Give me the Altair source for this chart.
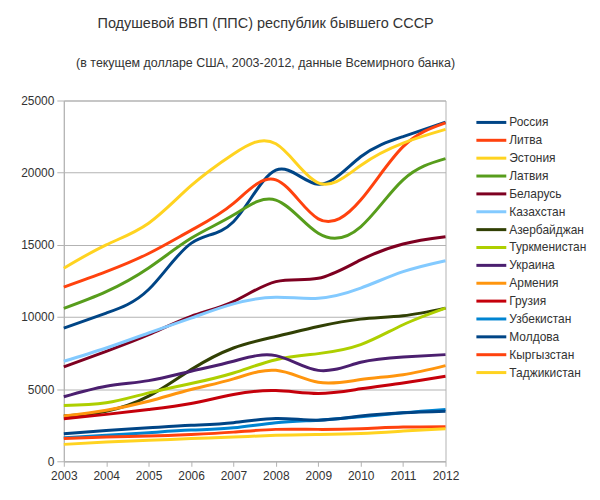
import altair as alt
import pandas as pd

years = [2003, 2004, 2005, 2006, 2007, 2008, 2009, 2010, 2011, 2012]

countries = ["Россия", "Литва", "Эстония", "Латвия", "Беларусь", "Казахстан",
             "Азербайджан", "Туркменистан", "Украина", "Армения", "Грузия",
             "Узбекистан", "Молдова", "Кыргызстан", "Таджикистан"]

colors = ["#004586", "#ff420e", "#ffd320", "#579d1c", "#7e0021", "#83caff",
          "#314004", "#aecf00", "#4b1f6f", "#ff950e", "#c5000b", "#0084d1",
          "#004586", "#ff420e", "#ffd320"]

russia       = [9230, 10270, 11900, 15100, 16600, 20170, 19200, 21100, 22500, 23500]
lithuania    = [12070, 13140, 14400, 16000, 17870, 19500, 16800, 18100, 21800, 23450]
estonia      = [13380, 15000, 16500, 19100, 21300, 22000, 19300, 20500, 22050, 23000]
latvia       = [10600, 11760, 13400, 15450, 17060, 18100, 15800, 16250, 19500, 20970]
belarus      = [6540, 7620, 8770, 10040, 11070, 12450, 12680, 13950, 15060, 15560]
kazakhstan   = [6930, 7850, 8890, 9920, 10910, 11370, 11300, 12000, 13140, 13900]
azerbaijan   = [3130, 3470, 4510, 6350, 7850, 8650, 9340, 9850, 10080, 10610]
turkmenistan = [3870, 4050, 4740, 5390, 6120, 7040, 7460, 8080, 9460, 10610]
ukraine      = [4470, 5200, 5590, 6240, 6930, 7320, 6300, 6860, 7230, 7390]
armenia      = [3130, 3540, 4160, 4970, 5710, 6300, 5480, 5660, 6000, 6630]
georgia      = [2950, 3250, 3590, 4000, 4630, 4900, 4700, 5020, 5430, 5890]
uzbekistan   = [1630, 1800, 1980, 2160, 2320, 2670, 2850, 3080, 3360, 3590]
moldova      = [1910, 2140, 2320, 2490, 2670, 2970, 2850, 3130, 3360, 3470]
kyrgyzstan   = [1570, 1680, 1750, 1860, 2020, 2210, 2210, 2260, 2370, 2400]
tajikistan   = [1170, 1330, 1450, 1570, 1680, 1800, 1860, 1930, 2090, 2260]

series = [russia, lithuania, estonia, latvia, belarus, kazakhstan, azerbaijan,
          turkmenistan, ukraine, armenia, georgia, uzbekistan, moldova,
          kyrgyzstan, tajikistan]

rows = []
for i, (c, vals) in enumerate(zip(countries, series)):
    for y, v in zip(years, vals):
        rows.append({"country": c, "year": y, "gdp": v, "idx": i})
df = pd.DataFrame(rows)
legend_df = pd.DataFrame({"country": countries})

GRAY = "#b3b3b3"
TXT = "#333333"
FONT = "Liberation Sans"

color_scale = alt.Scale(domain=countries, range=colors)

main = alt.Chart(df).mark_line(interpolate="natural", strokeWidth=3).encode(
    x=alt.X("year:Q",
            scale=alt.Scale(domain=[2003, 2012], nice=False, zero=False),
            axis=alt.Axis(values=years, format="d", title=None, grid=False,
                          tickSize=5, labelPadding=4, domainColor=GRAY,
                          tickColor=GRAY, labelFontSize=12, labelColor=TXT,
                          labelFont=FONT, labelFlush=False, labelOverlap=False)),
    y=alt.Y("gdp:Q",
            scale=alt.Scale(domain=[0, 25000], nice=False),
            axis=alt.Axis(values=[0, 5000, 10000, 15000, 20000, 25000],
                          format="d", title=None, grid=True, gridColor=GRAY,
                          tickSize=7, labelPadding=3, domainColor=GRAY,
                          tickColor=GRAY, labelFontSize=12, labelColor=TXT,
                          labelFont=FONT, labelFlush=False)),
    color=alt.Color("country:N", scale=color_scale, legend=None),
    order=alt.Order("idx:Q"),
).properties(width=383, height=362)

ly = alt.Y("country:N",
           scale=alt.Scale(type="point", domain=countries, range=[22, 273], padding=0),
           axis=None)

leg_rule = alt.Chart(legend_df).mark_rule(strokeWidth=3).encode(
    x=alt.value(16), x2=alt.value(46), y=ly,
    color=alt.Color("country:N", scale=color_scale, legend=None),
)
leg_text = alt.Chart(legend_df).mark_text(
    align="left", baseline="middle", fontSize=12, font=FONT, color=TXT
).encode(x=alt.value(49), y=ly, text="country:N")

legend = (leg_rule + leg_text).properties(
    width=110, height=362, view=alt.ViewBackground(stroke="transparent"))

chart = alt.hconcat(main, legend, spacing=0).properties(
    title=alt.TitleParams(
        text="Подушевой ВВП (ППС) республик бывшего СССР",
        subtitle="(в текущем долларе США, 2003-2012, данные Всемирного банка)",
        anchor="middle", fontSize=14.5, subtitleFontSize=12.5, font=FONT,
        subtitleFont=FONT, color=TXT, subtitleColor=TXT, fontWeight="normal",
        subtitlePadding=25, offset=24, dx=-38),
    padding={"left": 12, "top": 7, "right": 5, "bottom": 5},
).configure_view(stroke=GRAY)

chart.save("out.html", embed_options={"renderer": "svg", "actions": False})
